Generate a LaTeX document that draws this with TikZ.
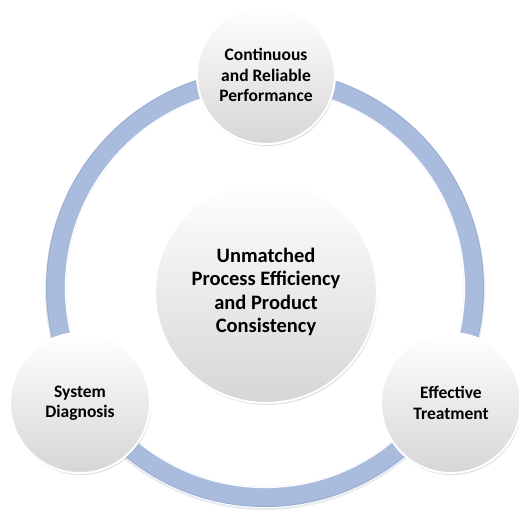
\documentclass[tikz,border=0pt]{standalone}
\usepackage{fontspec}
\setmainfont{Carlito}
\usepackage{tikz}
\usetikzlibrary{shadows}
\definecolor{Ring}{RGB}{170,188,222}
\definecolor{RingDark}{RGB}{138,156,190}
\definecolor{Bubble}{RGB}{214,214,216}
\tikzset{
every node/.style={circle,align=center,font=\bfseries,text=black},
style1/.style={minimum size=222pt,top color=white,bottom color=Bubble,draw=white,line width=2pt,
  drop shadow={opacity=0.25,shadow xshift=1pt,shadow yshift=-2pt},font=\bfseries\fontsize{20.5}{23.5}\selectfont},
style2/.style={minimum size=140pt,top color=white,bottom color=Bubble,draw=white,line width=2pt,
  drop shadow={opacity=0.25,shadow xshift=1pt,shadow yshift=-2pt},font=\bfseries\fontsize{17.5}{20.5}\selectfont}
}

\begin{document}
\begin{tikzpicture}[x=1pt,y=-1pt]
\useasboundingbox (0,0) rectangle (519,512);

% the ring behind the bubbles
\draw[RingDark!60,line width=2pt,opacity=0.35] (265,290) circle (219);
\draw[Ring,line width=20pt] (265,288) circle (209);
\draw[white,line width=1.2pt] (265,288) circle (199.5);
\draw[RingDark,line width=0.8pt,opacity=0.45] (265,288) circle (218.5);

\node[style1] (c0) at (266,292) {Unmatched\\Process Efficiency\\and Product\\Consistency};
\node[style2,minimum size=138pt] (c1) at (266,75) {Continuous\\and Reliable\\Performance};
\node[style2] (c2) at (451,403) {Effective\\Treatment};
\node[style2] (c3) at (80,403) {System\\Diagnosis};
\end{tikzpicture}
\end{document}
